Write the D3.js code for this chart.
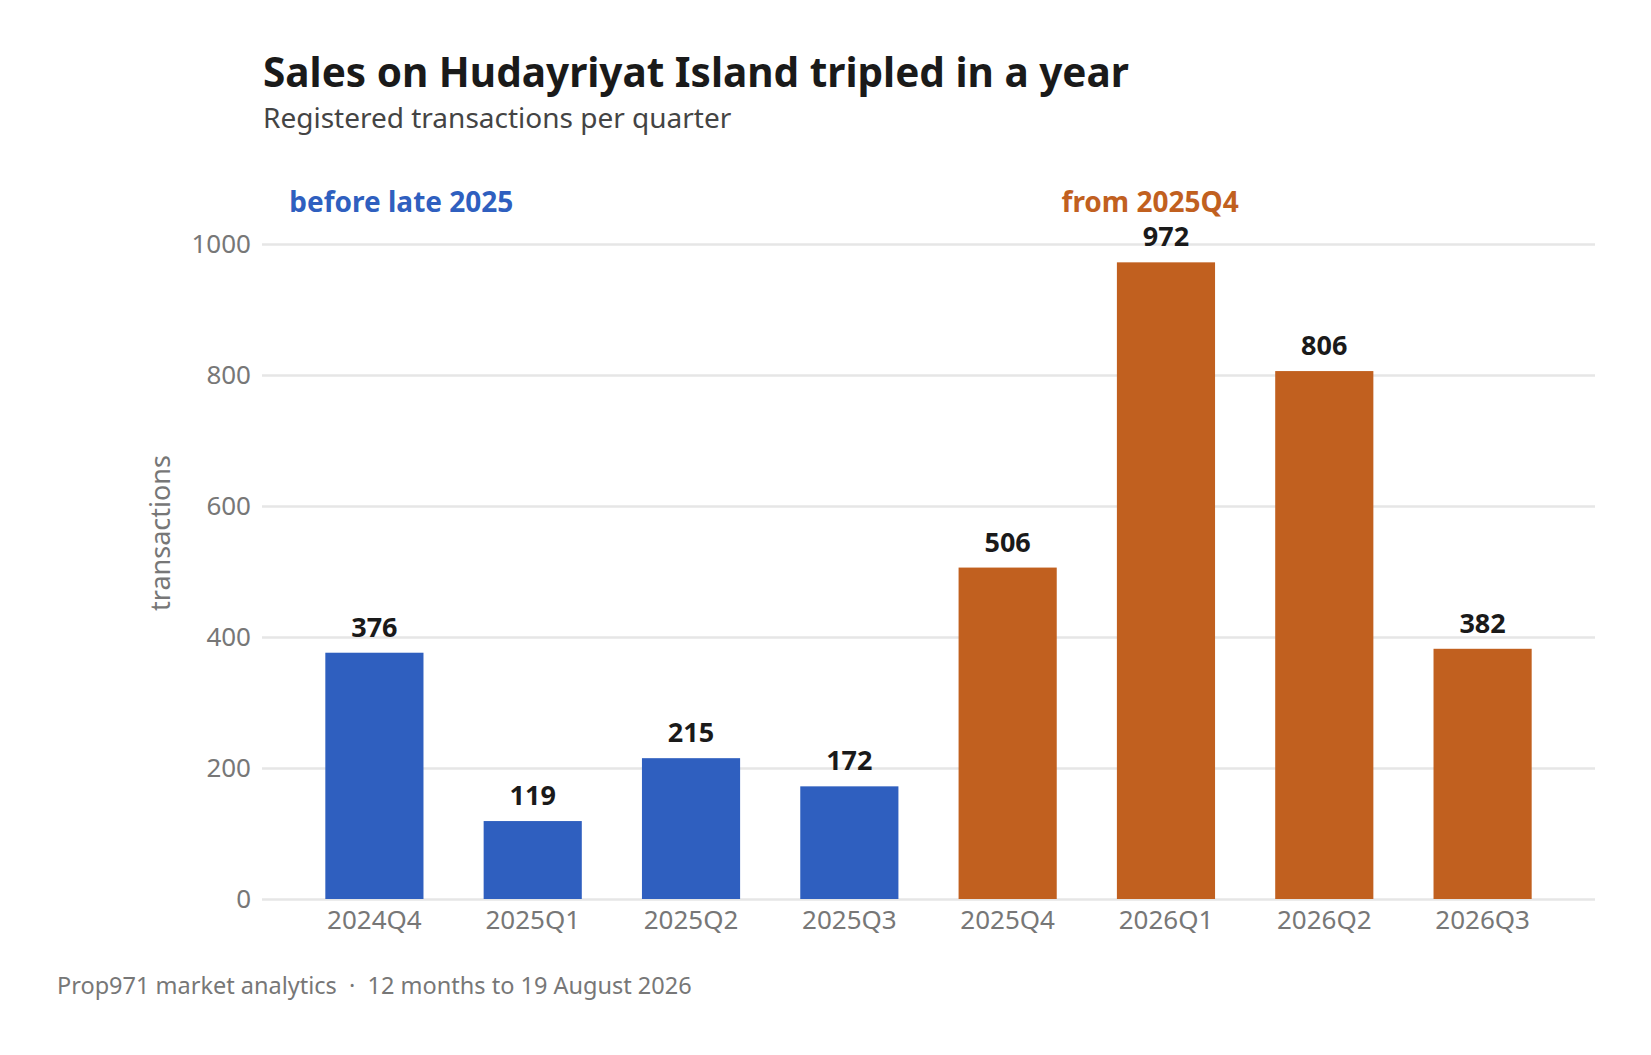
<!DOCTYPE html>
<html>

<head>
    <meta charset="utf-8">
    <script src="https://d3js.org/d3.v7.min.js"></script>
    <style>
        body { margin: 0; background: #fff; }
        svg text { font-family: "Noto Sans", "Open Sans", sans-serif; }
        .tick text { fill: #777; font-size: 26px; }
        .value { font-size: 27px; font-weight: 700; fill: #1a1a1a; text-anchor: middle; }
    </style>
</head>

<body>
    <svg width="1651" height="1055"></svg>
    <script>
        // data
        var quarters = ["2024Q4", "2025Q1", "2025Q2", "2025Q3", "2025Q4", "2026Q1", "2026Q2", "2026Q3"];
        var sales = [376, 119, 215, 172, 506, 972, 806, 382];
        var period = ["before", "before", "before", "before", "after", "after", "after", "after"];
        var yTicks = [0, 200, 400, 600, 800, 1000];

        var blue = "#2f5fbf",
            orange = "#c1601f";

        var svg = d3.select("svg"),
            margin = { top: 244, right: 56, bottom: 156, left: 262 },
            width = +svg.attr("width") - margin.left - margin.right,
            height = +svg.attr("height") - margin.top - margin.bottom;

        var x = d3.scaleBand()
            .domain(quarters)
            .range([margin.left, margin.left + width])
            .paddingInner(0.38)
            .paddingOuter(0.4);

        var y = d3.scaleLinear()
            .domain([0, 1000])
            .range([margin.top + height, margin.top]);

        // grid + y labels
        var yAxis = svg.append("g")
            .attr("transform", "translate(" + margin.left + ",0)")
            .call(d3.axisLeft(y).tickValues(yTicks).tickFormat(d3.format("d")).tickSize(-width).tickPadding(11));
        yAxis.select(".domain").remove();
        yAxis.selectAll(".tick line").attr("stroke", "#e6e6e6").attr("stroke-width", 2.5);

        // x labels
        var xAxis = svg.append("g")
            .attr("transform", "translate(0," + (margin.top + height) + ")")
            .call(d3.axisBottom(x).tickSize(0).tickPadding(12));
        xAxis.select(".domain").remove();
        xAxis.selectAll(".tick text").attr("dy", "0.71em");

        var data = quarters.map(function(q, i) {
            return { q: q, v: sales[i], p: period[i] };
        });

        svg.selectAll(".bar")
            .data(data)
            .enter().append("rect")
            .attr("class", "bar")
            .attr("x", function(d) { return x(d.q); })
            .attr("width", x.bandwidth())
            .attr("y", function(d) { return y(d.v); })
            .attr("height", function(d) { return y(0) - y(d.v); })
            .attr("fill", function(d) { return d.p == "before" ? blue : orange; });

        svg.selectAll(".value")
            .data(data)
            .enter().append("text")
            .attr("class", "value")
            .attr("x", function(d) { return x(d.q) + x.bandwidth() / 2; })
            .attr("y", function(d) { return y(d.v) - 16; })
            .text(function(d) { return d.v; });

        // group labels
        svg.append("text")
            .attr("x", x(quarters[0]) - 36)
            .attr("y", 212)
            .attr("fill", blue)
            .style("font-size", "28px")
            .style("font-weight", 700)
            .text("before late 2025");

        svg.append("text")
            .attr("x", x(quarters[4]) + 103)
            .attr("y", 212)
            .attr("fill", orange)
            .style("font-size", "28px")
            .style("font-weight", 700)
            .text("from 2025Q4");

        // y axis title
        svg.append("text")
            .attr("transform", "translate(170,533) rotate(-90)")
            .attr("text-anchor", "middle")
            .attr("fill", "#777")
            .style("font-size", "27px")
            .text("transactions");

        // titles
        svg.append("text")
            .attr("x", 263)
            .attr("y", 87)
            .attr("fill", "#1a1a1a")
            .style("font-size", "40.5px")
            .style("font-weight", 700)
            .text("Sales on Hudayriyat Island tripled in a year");

        svg.append("text")
            .attr("x", 263)
            .attr("y", 128)
            .attr("fill", "#444")
            .style("font-size", "28px")
            .text("Registered transactions per quarter");

        svg.append("text")
            .attr("x", 57)
            .attr("y", 994)
            .attr("fill", "#777")
            .style("font-size", "23.5px")
            .text("Prop971 market analytics  \u00b7  12 months to 19 August 2026")
            .attr("xml:space", "preserve");
    </script>
</body>

</html>
